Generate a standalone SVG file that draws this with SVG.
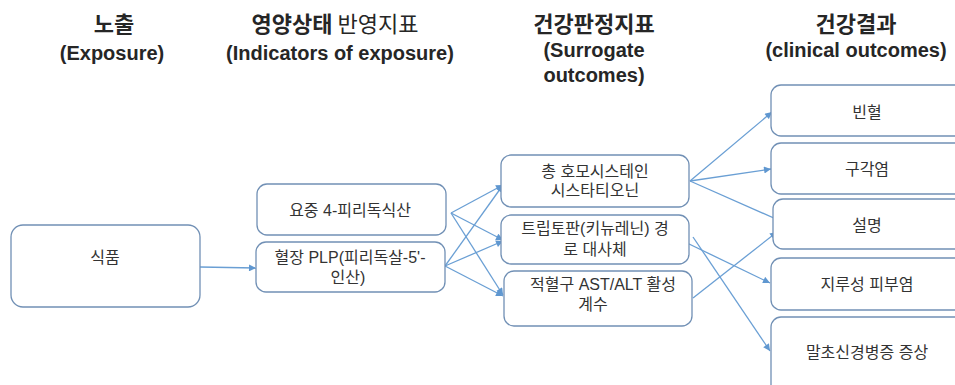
<svg xmlns="http://www.w3.org/2000/svg" width="955" height="385" viewBox="0 0 955 385">
  <style>
    .hd { font-family: "Noto Sans CJK KR", "Liberation Sans", sans-serif; font-weight: 700; fill: #262626; text-anchor: middle; }
    .hd-ko { font-size: 22px; }
    .hd-en { font-family: "Liberation Sans", "Noto Sans CJK KR", sans-serif; font-size: 20px; }
    .lt { font-weight: 400; }
    .box { fill: #ffffff; stroke: #7190b5; stroke-width: 1.3; }
    .lbl { font-family: "Liberation Sans", "Noto Sans CJK KR", sans-serif; font-size: 16px; fill: #333333; text-anchor: middle; }
    .edge { fill: none; stroke: #6a9fd4; stroke-width: 1.3; }
  </style>
  <defs>
    <marker id="arrow" viewBox="0 0 10 10" refX="10" refY="5" markerWidth="8" markerHeight="7" markerUnits="userSpaceOnUse" orient="auto">
      <path d="M0,0 L10,5 L0,10 z" fill="#5f97d0"/>
    </marker>
  </defs>

  <!-- column headings -->
  <g id="heading-exposure">
    <text class="hd hd-ko" x="114" y="32">노출</text>
    <text class="hd hd-en" x="112" y="60">(Exposure)</text>
  </g>
  <g id="heading-indicators">
    <text class="hd hd-ko" x="335" y="32">영양상태 <tspan class="lt">반영지표</tspan></text>
    <text class="hd hd-en" x="340" y="60">(Indicators of exposure)</text>
  </g>
  <g id="heading-surrogate">
    <text class="hd hd-ko" x="594" y="32">건강판정지표</text>
    <text class="hd hd-en"><tspan x="594" y="57">(Surrogate</tspan><tspan x="594" y="82">outcomes)</tspan></text>
  </g>
  <g id="heading-clinical">
    <text class="hd hd-ko" x="856" y="32">건강결과</text>
    <text class="hd hd-en" x="856" y="57">(clinical outcomes)</text>
  </g>

  <!-- connectors -->
  <g id="connectors">
    <path class="edge" marker-end="url(#arrow)" d="M200,267 L256,268"/>
    <path class="edge" marker-end="url(#arrow)" d="M451,213 L503,240"/>
    <path class="edge" marker-end="url(#arrow)" d="M451,213 L503,185"/>
    <path class="edge" marker-end="url(#arrow)" d="M451,213 L503,295"/>
    <path class="edge" marker-end="url(#arrow)" d="M445,266 L503,185"/>
    <path class="edge" marker-end="url(#arrow)" d="M445,266 L503,241"/>
    <path class="edge" marker-end="url(#arrow)" d="M445,266 L503,296"/>
    <path class="edge" marker-end="url(#arrow)" d="M690,181 L772,112"/>
    <path class="edge" marker-end="url(#arrow)" d="M690,181 L771,169"/>
    <path class="edge" marker-end="url(#arrow)" d="M690,181 L785,223"/>
    <path class="edge" marker-end="url(#arrow)" d="M687,243 L770,283"/>
    <path class="edge" marker-end="url(#arrow)" d="M693,237 L770,351"/>
    <path class="edge" marker-end="url(#arrow)" d="M693,298 L777,232"/>
  </g>

  <!-- exposure -->
  <g id="node-food">
    <rect class="box" x="11" y="225" width="189" height="82" rx="12"/>
    <text class="lbl" x="105" y="263">식품</text>
  </g>

  <!-- indicators -->
  <g id="node-urine-4pa">
    <rect class="box" x="257" y="184" width="189" height="51" rx="10"/>
    <text class="lbl" x="350" y="216">요중 4-피리독식산</text>
  </g>
  <g id="node-plasma-plp">
    <rect class="box" x="256" y="242" width="189" height="50" rx="10"/>
    <text class="lbl"><tspan x="350" y="263">혈장 PLP(피리독살-5'-</tspan><tspan x="348" y="283">인산)</tspan></text>
  </g>

  <!-- surrogate outcomes -->
  <g id="node-homocysteine">
    <rect class="box" x="501" y="155" width="188" height="52" rx="10"/>
    <text class="lbl"><tspan x="595" y="177">총 호모시스테인</tspan><tspan x="595" y="196">시스타티오닌</tspan></text>
  </g>
  <g id="node-tryptophan">
    <rect class="box" x="501" y="215" width="188" height="49" rx="10"/>
    <text class="lbl"><tspan x="595" y="234">트립토판(키뉴레닌) 경</tspan><tspan x="595" y="255">로 대사체</tspan></text>
  </g>
  <g id="node-rbc-ast-alt">
    <rect class="box" x="504" y="271" width="188" height="55" rx="10"/>
    <text class="lbl"><tspan x="603" y="290">적혈구 AST/ALT 활성</tspan><tspan x="593" y="310">계수</tspan></text>
  </g>

  <!-- clinical outcomes -->
  <g id="node-anemia">
    <rect class="box" x="771" y="85" width="194" height="51" rx="10"/>
    <text class="lbl" x="867" y="118">빈혈</text>
  </g>
  <g id="node-cheilosis">
    <rect class="box" x="771" y="143" width="194" height="51" rx="10"/>
    <text class="lbl" x="867" y="175">구각염</text>
  </g>
  <g id="node-glossitis">
    <rect class="box" x="773" y="199" width="192" height="50" rx="10"/>
    <text class="lbl" x="867" y="231">설명</text>
  </g>
  <g id="node-seborrheic">
    <rect class="box" x="771" y="258" width="194" height="52" rx="10"/>
    <text class="lbl" x="867" y="290">지루성 피부염</text>
  </g>
  <g id="node-neuropathy">
    <rect class="box" x="771" y="317" width="194" height="80" rx="10"/>
    <text class="lbl" x="867" y="358">말초신경병증 증상</text>
  </g>
</svg>
